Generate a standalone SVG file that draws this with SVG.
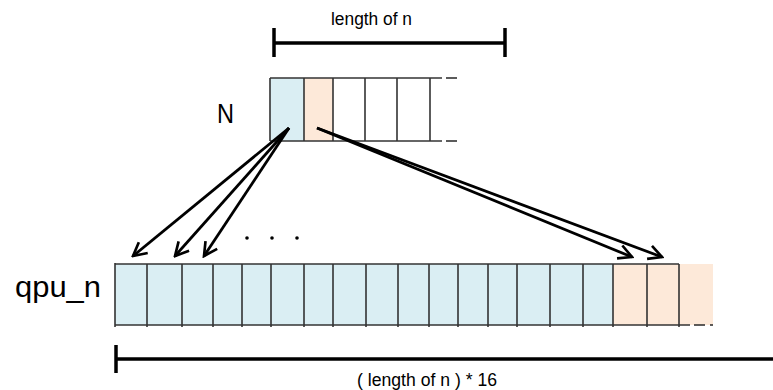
<svg xmlns="http://www.w3.org/2000/svg" width="773" height="390" viewBox="0 0 773 390">
<style>
.cell{stroke:#333;stroke-width:1.6}
.blue{fill:#DAEEF3}
.orange{fill:#FDE9D9}
.bar{stroke:#000;stroke-width:3.5;fill:none}
.edge{stroke:#000;stroke-width:2.8;fill:none;marker-end:url(#arr)}
.lbl{font-family:"Liberation Sans",Arial,sans-serif;fill:#000}
</style>
<defs>
<marker id="arr" viewBox="0 0 12 12" refX="10.5" refY="6" markerWidth="6" markerHeight="6" orient="auto" markerUnits="strokeWidth">
<path d="M1,1 L10.5,6 L1,11" fill="none" stroke="#000" stroke-width="1.9"/>
</marker>
</defs>
<rect width="773" height="390" fill="#fff"/>

<g id="length-bar-top">
<line class="bar" x1="274" y1="43" x2="505" y2="43"/>
<line class="bar" x1="274" y1="28" x2="274" y2="57" stroke-width="3"/>
<line class="bar" x1="505" y1="28" x2="505" y2="57" stroke-width="3"/>
<text class="lbl" x="331" y="25" font-size="18" textLength="81" lengthAdjust="spacingAndGlyphs">length of n</text>
</g>

<g id="N">
<text class="lbl" x="217" y="123" font-size="28" textLength="17" lengthAdjust="spacingAndGlyphs">N</text>
<rect class="blue" x="270" y="78" width="34" height="63"/>
<rect class="orange" x="304" y="78" width="29" height="63"/>
<g class="cell">
<line x1="270" y1="78" x2="442" y2="78"/>
<line x1="270" y1="141" x2="442" y2="141"/>
<line x1="446" y1="78" x2="457" y2="78"/>
<line x1="446" y1="141" x2="457" y2="141"/>
<line x1="270" y1="78" x2="270" y2="141"/>
<line x1="304" y1="78" x2="304" y2="141"/>
<line x1="333" y1="78" x2="333" y2="141"/>
<line x1="365" y1="78" x2="365" y2="141"/>
<line x1="397" y1="78" x2="397" y2="141"/>
<line x1="430" y1="78" x2="430" y2="141"/>
</g>
</g>

<g id="qpu_n">
<text class="lbl" x="15" y="297" font-size="29" textLength="86" lengthAdjust="spacingAndGlyphs">qpu_n</text>
<rect class="blue" x="115" y="264" width="498" height="61"/>
<rect class="orange" x="613" y="264" width="100" height="61"/>
<g class="cell">
<line x1="115" y1="264" x2="679" y2="264"/>
<line x1="115" y1="325" x2="690" y2="325"/>
<line x1="694" y1="325" x2="705" y2="325"/>
<line x1="710" y1="325" x2="713" y2="325"/>
<path d="M115,263V327M147,264V327M182,264V327M213,264V327M242,264V327M271,264V327M304,264V327M333,264V327M366,264V327M398,264V327M429,264V327M458,264V327M488,264V327M517,264V327M550,264V327M583,264V327M613,264V327M647,264V327M679,264V327"/>
</g>
</g>

<g id="ellipsis">
<circle cx="247" cy="238" r="1.8"/>
<circle cx="272" cy="238" r="1.8"/>
<circle cx="297" cy="238" r="1.8"/>
</g>

<g id="connectors">
<line class="edge" x1="289" y1="128" x2="133" y2="256"/>
<line class="edge" x1="289" y1="128" x2="175" y2="256"/>
<line class="edge" x1="289" y1="128" x2="204" y2="256"/>
<line class="edge" x1="317" y1="128" x2="632" y2="257"/>
<line class="edge" x1="317" y1="128" x2="662" y2="257"/>
</g>

<g id="length-bar-bottom">
<line class="bar" x1="116" y1="359" x2="773" y2="359"/>
<line class="bar" x1="116" y1="345" x2="116" y2="373" stroke-width="3"/>
<text class="lbl" x="357" y="386" font-size="18" textLength="140" lengthAdjust="spacingAndGlyphs">( length of n ) * 16</text>
</g>
</svg>
